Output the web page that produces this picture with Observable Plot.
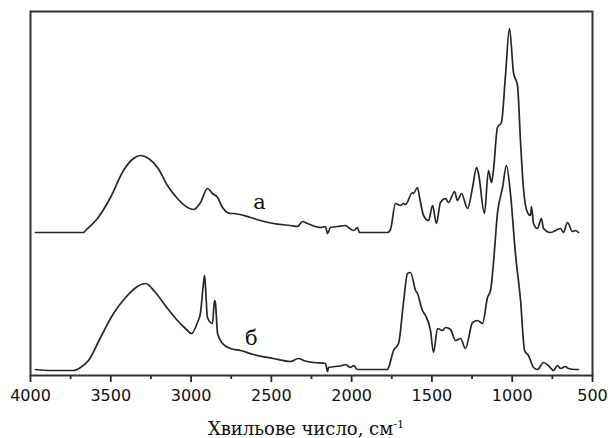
<!DOCTYPE html>
<html>
<head>
<meta charset="utf-8">
<script src="https://cdn.jsdelivr.net/npm/d3@7"></script>
<script src="https://cdn.jsdelivr.net/npm/@observablehq/plot@0.6"></script>
<style>
  html, body { margin: 0; padding: 0; background: #fff; overflow: hidden; }
  #chart svg { display: block; }
  #xlabel { font-family: "DejaVu Serif", "Liberation Serif", serif; font-size: 18px; color: #111;
            text-align: center; padding-left: 4px; padding-top: 5px; line-height: 27px; height: 27px; }
  #xlabel sup { font-size: 0.62em; vertical-align: 0.6em; line-height: 0; }
</style>
</head>
<body>
<div id="chart"></div>
<div id="xlabel">Хвильове число, см<sup>-1</sup></div>
<script>
// Spectrum "а": wavenumber (cm-1) and intensity (arbitrary units)
const waveA = [3969, 3875, 3732, 3670, 3657, 3583, 3502, 3421, 3359, 3315, 3265, 3209, 3147, 3085, 3022, 2985, 2941, 2898, 2867, 2835, 2804, 2754, 2736, 2630, 2568, 2487, 2381, 2337, 2306, 2275, 2194, 2163, 2150, 2132, 2088, 2038, 2020, 1988, 1964, 1951, 1901, 1820, 1777, 1758, 1727, 1696, 1677, 1665, 1621, 1615, 1590, 1577, 1552, 1521, 1496, 1472, 1447, 1415, 1397, 1359, 1341, 1316, 1278, 1247, 1222, 1210, 1173, 1148, 1129, 1117, 1092, 1067, 1042, 1017, 992, 967, 948, 930, 905, 886, 880, 867, 843, 818, 805, 762, 699, 681, 656, 625, 606, 587];
const absA = [143, 143, 143, 143, 145, 157, 178, 205, 217, 220, 217, 208, 190, 177, 168, 166, 173, 187, 182, 178, 168, 162, 162, 158, 155, 152, 150, 149, 154, 152, 148, 149, 142, 148, 149, 150, 148, 145, 148, 143, 143, 143, 143, 146, 172, 170, 172, 171, 183, 182, 188, 178, 160, 155, 170, 152, 173, 177, 173, 184, 175, 182, 167, 188, 208, 202, 162, 205, 193, 205, 248, 253, 300, 347, 303, 290, 233, 187, 163, 160, 169, 152, 147, 157, 147, 143, 147, 143, 153, 144, 145, 143];

// Spectrum "б"
const waveB = [3969, 3875, 3732, 3689, 3639, 3564, 3483, 3408, 3334, 3284, 3222, 3147, 3085, 3035, 2997, 2960, 2941, 2923, 2916, 2910, 2898, 2867, 2854, 2848, 2835, 2804, 2754, 2692, 2611, 2487, 2381, 2331, 2300, 2238, 2163, 2150, 2144, 2057, 2038, 2007, 1988, 1964, 1901, 1777, 1770, 1739, 1708, 1677, 1652, 1633, 1602, 1590, 1559, 1540, 1509, 1490, 1465, 1434, 1415, 1384, 1353, 1322, 1291, 1247, 1216, 1185, 1154, 1135, 1117, 1092, 1060, 1036, 1011, 980, 948, 923, 899, 867, 843, 805, 774, 743, 718, 699, 668, 650, 606, 587];
const absB = [6, 5, 5, 8, 15, 38, 62, 78, 89, 92, 83, 67, 55, 47, 42, 53, 63, 92, 100, 88, 58, 52, 75, 72, 42, 32, 27, 25, 21, 17, 14, 17, 15, 13, 12, 4, 8, 10, 11, 8, 10, 6, 6, 6, 8, 25, 32, 73, 102, 103, 85, 82, 65, 60, 45, 23, 47, 45, 48, 46, 35, 37, 27, 53, 55, 52, 78, 85, 112, 162, 188, 210, 182, 122, 75, 25, 20, 8, 6, 13, 10, 5, 10, 7, 9, 7, 6, 6];

// Curve labels
const labelText = ["а", "б"];
const labelWave = [2574, 2624];
const labelAbs = [167, 31];

// Axis ticks
const majorTicks = [4000, 3500, 3000, 2500, 2000, 1500, 1000, 500];
const minorTicks = [3750, 3250, 2750, 2250, 1750, 1250, 750];

const dataA = waveA.map((w, i) => ({wave: w, abs: absA[i]}));
const dataB = waveB.map((w, i) => ({wave: w, abs: absB[i]}));
const labels = labelText.map((t, i) => ({text: t, wave: labelWave[i], abs: labelAbs[i]}));

const ink = "#262626";

const chart = Plot.plot({
  width: 608,
  height: 410,
  marginLeft: 30,
  marginRight: 16,
  marginTop: 11,
  marginBottom: 35,
  style: {fontFamily: "DejaVu Sans, sans-serif", fontSize: "16px", color: "#111", background: "#fff"},
  x: {domain: [4000, 500]},
  y: {domain: [0, 364], axis: null},
  marks: [
    Plot.axisX(majorTicks, {tickSize: 7, tickPadding: 7, tickFormat: d => String(d), label: null, stroke: ink, strokeWidth: 1.8}),
    Plot.axisX(minorTicks, {tickSize: 4, text: null, label: null, stroke: ink, strokeWidth: 1.8}),
    Plot.line(dataA, {x: "wave", y: "abs", stroke: ink, strokeWidth: 1.7, curve: "monotone-x"}),
    Plot.line(dataB, {x: "wave", y: "abs", stroke: ink, strokeWidth: 1.7, curve: "monotone-x"}),
    Plot.text(labels, {x: "wave", y: "abs", text: "text", lineAnchor: "bottom", textAnchor: "middle",
      fontFamily: "DejaVu Serif, Liberation Serif, serif", fontSize: 21, fill: "#111"}),
    Plot.frame({stroke: "#333", strokeWidth: 2})
  ]
});
document.getElementById("chart").appendChild(chart);
</script>
</body>
</html>
